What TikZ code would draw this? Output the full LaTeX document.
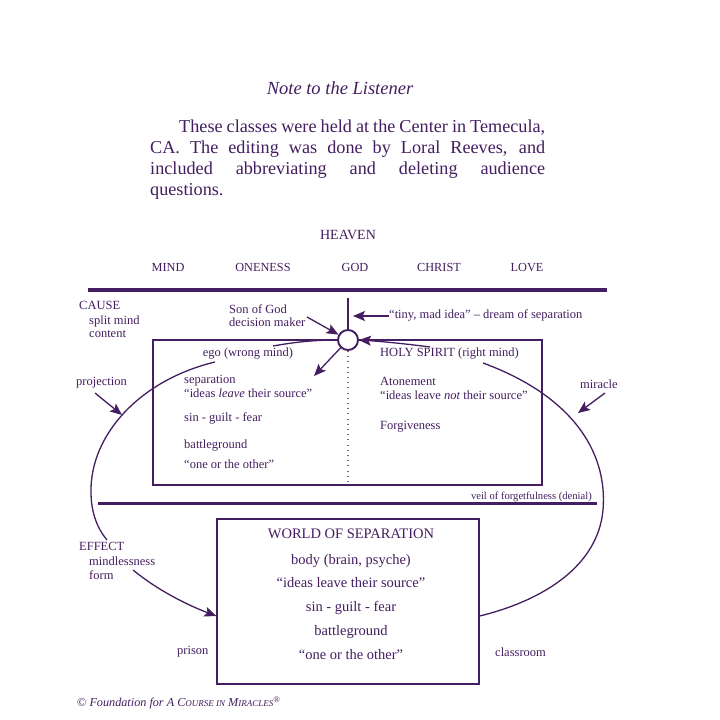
\documentclass[tikz,border=0pt]{standalone}
\usepackage{fontspec}
\setmainfont{Liberation Serif}
\usetikzlibrary{arrows.meta}
\definecolor{pur}{RGB}{68,30,96}
\begin{document}
\begin{tikzpicture}[x=1pt,y=-1pt,
  lab/.style={text=pur,inner sep=0pt,text height=0.7em,text depth=0.2em,font=\fontsize{12.5}{15}\selectfont},
  hdr/.style={lab,font=\fontsize{12.3}{15}\selectfont},
  big/.style={lab,font=\fontsize{14.5}{17}\selectfont},
  para/.style={text=pur,inner sep=0pt,anchor=base west,font=\fontsize{18.2}{21}\selectfont},
  ln/.style={draw=pur,line width=1.3pt},
  arr/.style={ln,-{Stealth[length=12pt,width=10pt,inset=2.5pt]}},
  thick rule/.style={draw=pur,line width=4.3pt},
  med rule/.style={draw=pur,line width=3pt}]
\fill[white] (0,0) rectangle (720,720);
\useasboundingbox (0,0) rectangle (720,720);

% heading and paragraph
\node[text=pur,inner sep=0pt,anchor=base,font=\fontsize{18.5}{21}\selectfont\itshape] (title) at (340,94) {Note to the Listener};
\node[para] (p1) at (179,132) {\makebox[366pt][s]{These classes were held at the Center in Temecula,}};
\node[para] (p2) at (150,153) {\makebox[395pt][s]{CA. The editing was done by Loral Reeves, and}};
\node[para] (p3) at (150,174) {\makebox[395pt][s]{included abbreviating and deleting audience}};
\node[para] (p4) at (150,195) {questions.};

% heaven row
\node[lab,font=\fontsize{14}{16}\selectfont] (heaven) at (348,237) {HEAVEN};
\node[hdr] (mind) at (168,269) {MIND};
\node[hdr] (oneness) at (263,269) {ONENESS};
\node[hdr] (god) at (355,269) {GOD};
\node[hdr] (christ) at (439,269) {CHRIST};
\node[hdr] (love) at (527,269) {LOVE};
\coordinate (r1a) at (88,290);
\coordinate (r1b) at (607,290);
\draw[thick rule] (r1a) -- (r1b);

% upper box
\node[draw=pur,line width=1.3pt,minimum width=389pt,minimum height=145pt,inner sep=0pt] (mindbox) at (347.5,412.5) {};
\coordinate (vtop) at (348,298);
\coordinate (vbot) at (348,482);
\node[circle,draw=pur,line width=1.9pt,fill=white,minimum size=20pt,inner sep=0pt] (sog) at (348,340) {};
\draw[ln] (vtop) -- (sog.north);
\draw[draw=pur!70,line width=1.2pt,dash pattern=on 1pt off 4.2pt] (sog.south) -- (vbot);

% left side labels
\node[lab,anchor=west] (cause) at (79,307) {CAUSE};
\node[lab,anchor=west] (split) at (89,322) {split mind};
\node[lab,anchor=west] (content) at (89,335) {content};
\node[lab,anchor=west] (son) at (229,311) {Son of God};
\node[lab,anchor=west] (dec) at (229,324) {decision maker};
\node[lab,anchor=west] (tiny) at (389,316) {``tiny, mad idea'' -- dream of separation};
\node[lab] (ego) at (248,354) {ego (wrong mind)};
\node[lab,anchor=west] (sep) at (184,381) {separation};
\node[lab,anchor=west] (leave) at (184,395) {``ideas \textit{leave} their source''};
\node[lab,anchor=west] (sgf) at (184,419) {sin - guilt - fear};
\node[lab,anchor=west] (bg) at (184,446) {battleground};
\node[lab,anchor=west] (oto) at (184,466) {``one or the other''};
\node[lab,anchor=west] (proj) at (76,383) {projection};

% right side labels
\node[lab,anchor=west] (hs) at (380,354) {HOLY SPIRIT (right mind)};
\node[lab,anchor=west] (aton) at (380,383) {Atonement};
\node[lab,anchor=west] (notsrc) at (380,397) {``ideas leave \textit{not} their source''};
\node[lab,anchor=west] (forg) at (380,427) {Forgiveness};
\node[lab,anchor=west] (mir) at (580,386) {miracle};

% veil
\coordinate (r2a) at (98,503);
\coordinate (r2b) at (597,503);
\draw[med rule] (r2a) -- (r2b);
\node[text=pur,inner sep=0pt,anchor=base east,font=\fontsize{10.6}{12}\selectfont] (veil) at (592,499) {veil of forgetfulness (denial)};

% world box
\node[draw=pur,line width=1.3pt,minimum width=262pt,minimum height=165pt,inner sep=0pt] (world) at (348,601.5) {};
\node[big] (w1) at (351,536) {WORLD OF SEPARATION};
\node[big] (w2) at (351,562) {body (brain, psyche)};
\node[big] (w3) at (351,585) {``ideas leave their source''};
\node[big] (w4) at (351,609) {sin - guilt - fear};
\node[big] (w5) at (351,633) {battleground};
\node[big] (w6) at (351,657) {``one or the other''};
\node[lab,anchor=west] (effect) at (79,548) {EFFECT};
\node[lab,anchor=west] (mless) at (89,563) {mindlessness};
\node[lab,anchor=west] (form) at (89,577) {form};
\node[lab,anchor=west] (prison) at (177,652) {prison};
\node[lab,anchor=west] (class) at (495,654) {classroom};
\node[text=pur,inner sep=0pt,anchor=west,font=\fontsize{12.2}{14}\selectfont\itshape] (copy) at (77,703)
  {\textup{\textcopyright} Foundation for A C{\fontsize{9}{11}\selectfont OURSE IN} M{\fontsize{9}{11}\selectfont IRACLES}\textsuperscript{\textregistered}};

% connectors
\coordinate (sontail) at (307,317);
\draw[arr] (sontail) -- (sog);
\coordinate (tinytip) at (353,316);
\draw[arr] (tiny.west) -- (tinytip);
\coordinate (egotip) at (314,376);
\draw[arr] (sog) -- (egotip);
\coordinate (projtail) at (95,393);
\coordinate (projtip) at (122,415);
\draw[arr] (projtail) -- (projtip);
\coordinate (mirtail) at (605,393);
\coordinate (mirtip) at (578,413);
\draw[arr] (mirtail) -- (mirtip);

% loops
\coordinate (la) at (273,346);
\draw[ln] (sog.west) .. controls (310,340) and (290,343) .. (la);
\coordinate (lb) at (215,362);
\coordinate (lm) at (91,492);
\coordinate (lc) at (107,540);
\draw[ln] (lb) .. controls (140,380) and (90,435) .. (lm) .. controls (91,512) and (97,528) .. (lc);
\coordinate (ld) at (133,570);
\coordinate (worldin) at (world.west |- 0,616);
\draw[arr] (ld) .. controls (160,592) and (190,606) .. (worldin);
\coordinate (rb) at (483,363);
\coordinate (rm) at (603,510);
\coordinate (worldout) at (world.east |- 0,616);
\draw[ln] (rb) .. controls (570,395) and (608,450) .. (rm) .. controls (598,565) and (545,600) .. (worldout);
\coordinate (ra) at (430,347);
\draw[arr] (ra) .. controls (400,343) and (375,341) .. (sog.east);
\end{tikzpicture}
\end{document}
